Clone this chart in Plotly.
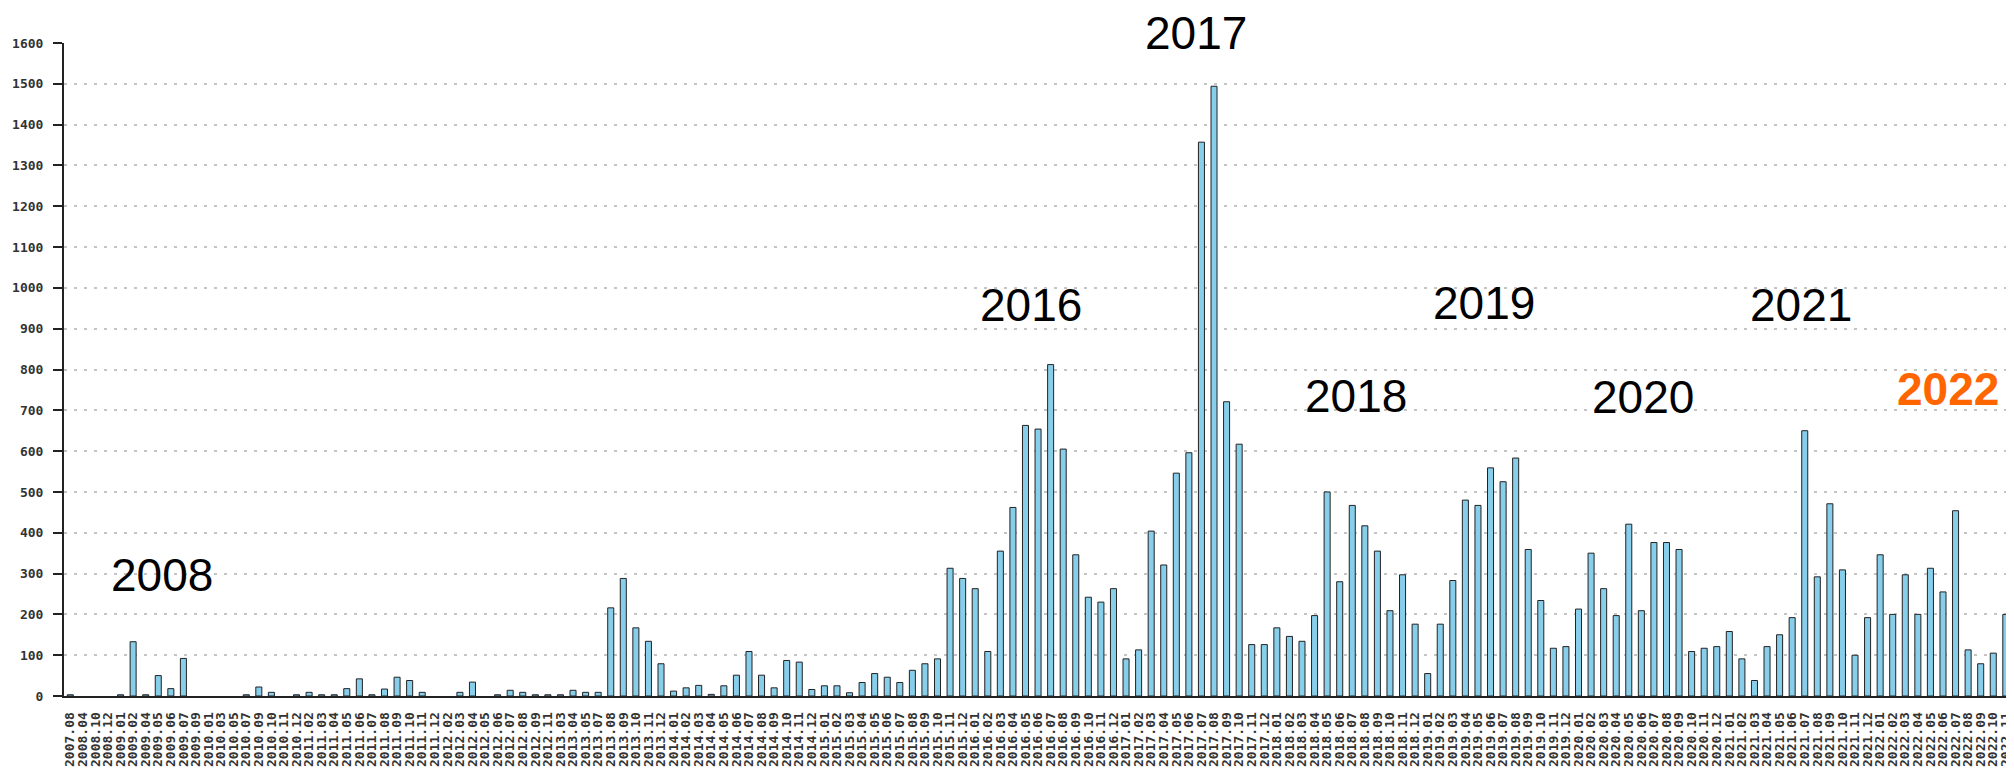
import plotly.graph_objects as go

# ---- data ----
months = [
    "2007.08", "2008.04", "2008.10", "2008.12", "2009.01", "2009.02", "2009.04", "2009.05", "2009.06", "2009.07",
    "2009.09", "2010.01", "2010.03", "2010.05", "2010.07", "2010.09", "2010.10", "2010.11", "2010.12", "2011.02",
    "2011.03", "2011.04", "2011.05", "2011.06", "2011.07", "2011.08", "2011.09", "2011.10", "2011.11", "2011.12",
    "2012.02", "2012.03", "2012.04", "2012.05", "2012.06", "2012.07", "2012.08", "2012.09", "2012.11", "2013.03",
    "2013.04", "2013.05", "2013.07", "2013.08", "2013.09", "2013.10", "2013.11", "2013.12", "2014.01", "2014.02",
    "2014.03", "2014.04", "2014.05", "2014.06", "2014.07", "2014.08", "2014.09", "2014.10", "2014.11", "2014.12",
    "2015.01", "2015.02", "2015.03", "2015.04", "2015.05", "2015.06", "2015.07", "2015.08", "2015.09", "2015.10",
    "2015.11", "2015.12", "2016.01", "2016.02", "2016.03", "2016.04", "2016.05", "2016.06", "2016.07", "2016.08",
    "2016.09", "2016.10", "2016.11", "2016.12", "2017.01", "2017.02", "2017.03", "2017.04", "2017.05", "2017.06",
    "2017.07", "2017.08", "2017.09", "2017.10", "2017.11", "2017.12", "2018.01", "2018.02", "2018.03", "2018.04",
    "2018.05", "2018.06", "2018.07", "2018.08", "2018.09", "2018.10", "2018.11", "2018.12", "2019.01", "2019.02",
    "2019.03", "2019.04", "2019.05", "2019.06", "2019.07", "2019.08", "2019.09", "2019.10", "2019.11", "2019.12",
    "2020.01", "2020.02", "2020.03", "2020.04", "2020.05", "2020.06", "2020.07", "2020.08", "2020.09", "2020.10",
    "2020.11", "2020.12", "2021.01", "2021.02", "2021.03", "2021.04", "2021.05", "2021.06", "2021.07", "2021.08",
    "2021.09", "2021.10", "2021.11", "2021.12", "2022.01", "2022.02", "2022.03", "2022.04", "2022.05", "2022.06",
    "2022.07", "2022.08", "2022.09", "2022.10", "2022.11",
]

counts = [
    3, 0, 0, 0, 3, 133, 3, 50, 18, 92,
    0, 0, 0, 0, 3, 22, 9, 0, 3, 9,
    3, 3, 18, 42, 3, 17, 46, 38, 9, 0,
    0, 9, 34, 0, 3, 14, 9, 3, 3, 3,
    14, 9, 9, 216, 288, 167, 134, 79, 12, 20,
    26, 4, 25, 51, 109, 51, 20, 87, 83, 16,
    25, 25, 8, 33, 55, 46, 33, 63, 79, 91,
    313, 288, 263, 109, 355, 462, 663, 654, 812, 605,
    346, 242, 230, 263, 91, 113, 404, 321, 546, 596,
    1357, 1494, 721, 617, 126, 126, 167, 146, 134, 197,
    500, 280, 467, 417, 355, 209, 297, 176, 55, 176,
    283, 480, 467, 559, 525, 583, 359, 234, 117, 121,
    213, 350, 263, 197, 421, 209, 376, 376, 359, 109,
    117, 121, 158, 91, 38, 121, 150, 192, 650, 292,
    471, 309, 100, 192, 346, 200, 297, 200, 313, 255,
    454, 113, 79, 105, 200,
]

year_labels = ["2008", "2016", "2017", "2018", "2019", "2020", "2021", "2022"]
year_label_pos = [7.3, 76.4, 89.6, 102.3, 112.5, 125.1, 137.7, 149.4]   # category index
year_label_val = [297, 957, 1624, 734, 962, 732, 958, 751]             # value level of text centre
highlight_year = "2022"

y_ticks = list(range(0, 1700, 100))
major_tick_every = 10

# ---- style ----
BAR_FILL = "#87CEEB"
DARK = "#222222"
GRID = "#c4c4c4"
HIGHLIGHT = "#FF6600"
Y_TICK_FONT = dict(family="DejaVu Sans Mono", size=13, color="#333333", weight="bold")
X_TICK_FONT = dict(family="DejaVu Sans Mono", size=13, color="#333333", weight="bold")

x_range = [-0.5, 154.65]
y_range = [0, 1600]
boundaries = [i - 0.5 for i in range(major_tick_every, len(months) + 1, major_tick_every)]

# zero-count months get no visible bar (as in the original)
bar_heights = [v if v > 0 else None for v in counts]

fig = go.Figure()
fig.add_trace(go.Bar(
    x=months, y=bar_heights,
    marker=dict(color=BAR_FILL, line=dict(color=DARK, width=1)),
    hoverinfo="x+y",
))

for txt, xp, yv in zip(year_labels, year_label_pos, year_label_val):
    hl = txt == highlight_year
    fig.add_annotation(
        x=xp, xref="x",
        y=(yv - y_range[0]) / (y_range[1] - y_range[0]), yref="paper",
        text=txt, showarrow=False,
        xanchor="center", yanchor="middle",
        font=dict(family="Liberation Sans", size=46,
                  color=HIGHLIGHT if hl else "#000000",
                  weight="bold" if hl else "normal"),
    )

# the page body adds an 8px offset; the figure is sized to fill the rest of the window
fig.update_layout(
    width=2006, height=768,
    margin=dict(l=56, r=0, t=35, b=80, autoexpand=False),
    paper_bgcolor="white", plot_bgcolor="white",
    bargap=0.52,
    showlegend=False,
    xaxis=dict(
        type="category", range=x_range, automargin=False,
        tickmode="linear", tick0=0, dtick=1,
        tickangle=-90, tickfont=X_TICK_FONT,
        ticks="", ticklabelstandoff=9,
        showline=True, linecolor=DARK, linewidth=2,
        showgrid=False, zeroline=False,
    ),
    xaxis2=dict(
        overlaying="x", anchor="y", side="bottom", type="linear", range=x_range,
        automargin=False,
        tickmode="array", tickvals=boundaries, showticklabels=False,
        ticks="outside", ticklen=9, tickwidth=2, tickcolor=DARK,
        showline=False, showgrid=False, zeroline=False,
    ),
    xaxis3=dict(
        overlaying="x", anchor="y", side="bottom", type="linear", range=x_range,
        automargin=False,
        tickmode="array", tickvals=boundaries, showticklabels=False,
        ticks="inside", ticklen=5, tickwidth=2, tickcolor=DARK,
        showline=False, showgrid=False, zeroline=False,
    ),
    yaxis=dict(
        range=y_range, tickmode="array", tickvals=y_ticks, automargin=False,
        ticks="outside", ticklen=9, tickwidth=2, tickcolor=DARK,
        tickfont=Y_TICK_FONT, ticklabelstandoff=7,
        showline=True, linecolor=DARK, linewidth=2,
        showgrid=True, gridcolor=GRID, gridwidth=1.5, griddash="3px,7px",
        zeroline=False,
    ),
    yaxis2=dict(
        overlaying="y", anchor="x", side="left", range=y_range, automargin=False,
        tickmode="array", tickvals=y_ticks, showticklabels=False,
        ticks="inside", ticklen=6, tickwidth=2, tickcolor=DARK,
        showline=False, showgrid=False, zeroline=False,
    ),
)

fig.write_html("out.html")
